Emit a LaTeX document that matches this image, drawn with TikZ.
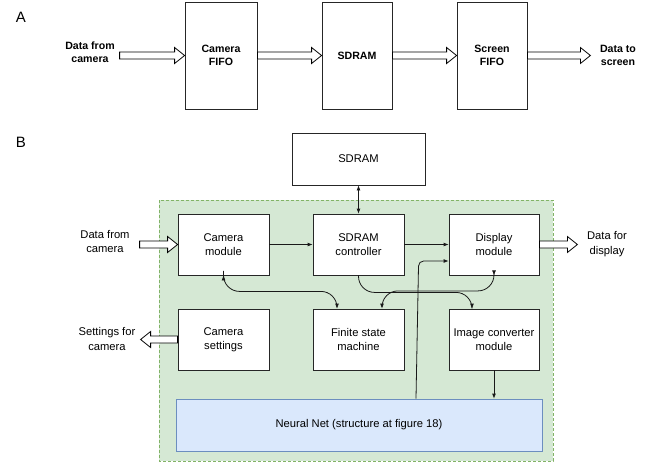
\documentclass[tikz,border=0pt]{standalone}
\usepackage{fontspec}
\setmainfont{Liberation Sans}
\usetikzlibrary{arrows.meta,calc}
\definecolor{panelgreen}{HTML}{D5E8D4}
\definecolor{panelgreenline}{HTML}{82B366}
\definecolor{netblue}{HTML}{DAE8FC}
\definecolor{netblueline}{HTML}{6C8EBF}
\newcommand\harrow[2]{%
\draw[line width=0.8pt,fill=white,line join=miter] let \p1=#1, \p2=#2,
\n1={ifthenelse(\x2>\x1,1,-1)} in
(\x1,\y2+3.5pt)--({\x2-(\n1)*10pt},\y2+3.5pt)--({\x2-(\n1)*10pt},\y2+8pt)
--(\x2,\y2)--({\x2-(\n1)*10pt},\y2-8pt)--({\x2-(\n1)*10pt},\y2-3.5pt)
--(\x1,\y2-3.5pt)--cycle;}
\begin{document}
\begin{tikzpicture}[x=1pt,y=-1pt,
blk/.style={draw=black!85,line width=0.8pt,fill=white,align=center,inner sep=0pt,minimum height=#1},
blk/.default=61,
txta/.style={align=center,font=\fontsize{10.6}{13}\selectfont\bfseries},
txtb/.style={align=center,font=\fontsize{11.2}{14.5}\selectfont},
con/.style={line width=0.8pt,black!90,-{Latex[length=5pt,width=4pt]}},
dcon/.style={line width=0.8pt,black!90,{Latex[length=5pt,width=4pt]}-{Latex[length=5pt,width=4pt]}}]
\useasboundingbox (0,0) rectangle (657,464);
\node[font=\fontsize{15}{16}\selectfont] (lba) at (21,17) {A};
\node[font=\fontsize{15}{16}\selectfont] (lbb) at (21,142) {B};
\node[blk=107,minimum width=72,txta] (cfifo) at (221,55.5) {Camera\\FIFO};
\node[blk=107,minimum width=70,txta] (sdram) at (357,55.5) {SDRAM};
\node[blk=107,minimum width=70,txta] (sfifo) at (492,55.5) {Screen\\FIFO};
\node[txta] (dfca) at (90,52) {Data from\\camera};
\node[txta] (dts) at (618,55) {Data to\\screen};
\harrow{([xshift=-65pt]cfifo.west)}{(cfifo.west)}
\harrow{(cfifo.east)}{(sdram.west)}
\harrow{(sdram.east)}{(sfifo.west)}
\harrow{(sfifo.east)}{([xshift=63pt]sfifo.east)}
\draw[panelgreenline,fill=panelgreen,dash pattern=on 3pt off 2pt,line width=0.8pt] (159,200) rectangle (553,461);
\node[blk=52,minimum width=133,txtb] (sdr) at (358.5,159) {SDRAM};
\node[blk,minimum width=91,txtb] (camm) at (223.5,244.5) {Camera\\module};
\node[blk,minimum width=91,txtb] (sdc) at (358.5,244.5) {SDRAM\\controller};
\node[blk,minimum width=90,txtb] (dm) at (494,244.5) {Display\\module};
\node[blk,minimum width=91,txtb] (cams) at (223.5,339.5) {Camera\\settings};
\node[blk,minimum width=91,txtb] (fsm) at (358.5,339.5) {Finite state\\machine};
\node[blk,minimum width=90,txtb] (icm) at (494,339.5) {Image converter\\module};
\node[draw=netblueline,fill=netblue,line width=0.8pt,minimum width=366,minimum height=52,inner sep=0pt,txtb] (nn) at (359,425) {Neural Net (structure at figure 18)};
\node[txtb] (dfcb) at (105,241.5) {Data from\\camera};
\node[txtb] (dfd) at (607,244) {Data for\\display};
\node[txtb] (sfc) at (107,339) {Settings for\\camera};
\harrow{([xshift=-38pt]camm.west)}{(camm.west)}
\harrow{(dm.east)}{([xshift=38pt]dm.east)}
\harrow{(cams.west)}{([xshift=-37pt]cams.west)}
\draw[dcon] (sdr.south) -- (sdc.north);
\draw[con] (camm.east) -- (sdc.west);
\draw[con] (sdc.east) -- (dm.west);
\draw[dcon,rounded corners=16pt] (camm.south) -- ++(0,16) -| ([xshift=-21.5pt]fsm.north);
\draw[con,rounded corners=16pt] (sdc.south) -- ++(0,17) -| ([xshift=-22pt]icm.north);
\draw[dcon,rounded corners=16pt] (dm.south) -- ++(0,15.5) -| ([xshift=23.5pt]fsm.north);
\draw[con,rounded corners=5pt] ([xshift=57pt]nn.north) -- ([xshift=-30pt,yshift=-16.5pt]dm.west) -- ([yshift=-16.5pt]dm.west);
\draw[con] (icm.south) -- (icm.south |- nn.north);
\end{tikzpicture}
\end{document}
